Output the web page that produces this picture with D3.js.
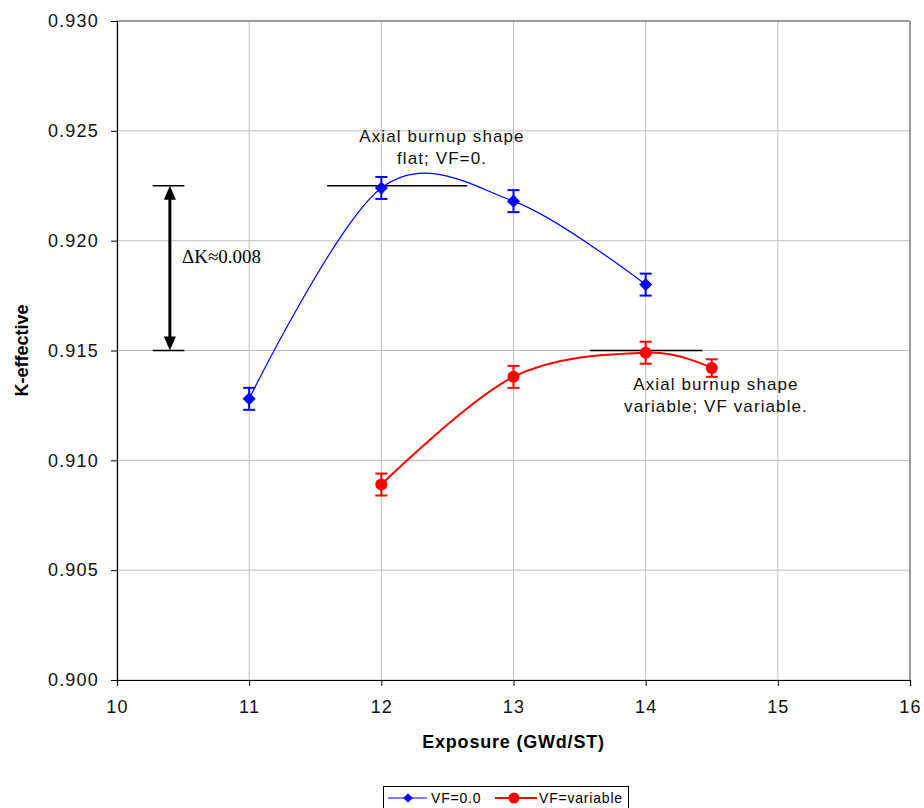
<!DOCTYPE html>
<html>
<head>
<meta charset="utf-8">
<script src="https://cdn.jsdelivr.net/npm/d3@7"></script>
<style>
  html, body { margin: 0; padding: 0; background: #fff; }
  svg { display: block; font-family: "Liberation Sans", Arial, sans-serif; }
</style>
</head>
<body>
<svg id="chart" width="924" height="808"></svg>
<script>
// Exposure (GWd/ST) values for each series
const exposureFlat = [11, 12, 13, 14];
const kFlat = [0.9128, 0.9224, 0.9218, 0.9180];
const errFlat = [0.0005, 0.0005, 0.0005, 0.0005];

const exposureVar = [12, 13, 14, 14.5];
const kVar = [0.9089, 0.9138, 0.9149, 0.9142];
const errVar = [0.0005, 0.0005, 0.0005, 0.0004];

const xTicks = [10, 11, 12, 13, 14, 15, 16];
const yTicks = [0.900, 0.905, 0.910, 0.915, 0.920, 0.925, 0.930];

const seriesNames = ["VF=0.0", "VF=variable"];

// Reference levels and annotation text
const levelFlat = 0.9225;
const levelVar = 0.9150;
const deltaLabel = "ΔK≈0.008";
const noteFlat = ["Axial burnup shape", "flat; VF=0."];
const noteVar = ["Axial burnup shape", "variable; VF variable."];

const svg = d3.select("#chart");
const margin = { left: 117, right: 14, top: 21, bottom: 128 };
const W = 924, H = 808;

const x = d3.scaleLinear().domain([10, 16]).range([margin.left, W - margin.right]);
const y = d3.scaleLinear().domain([0.900, 0.930]).range([H - margin.bottom, margin.top]);

const grid = svg.append("g");
// horizontal gridlines
grid.selectAll("line.h").data(yTicks).join("line")
  .attr("x1", x(10)).attr("x2", x(16))
  .attr("y1", d => y(d)).attr("y2", d => y(d))
  .attr("stroke", "#c0c0c0").attr("stroke-width", 1);
// vertical gridlines
grid.selectAll("line.v").data(xTicks).join("line")
  .attr("x1", d => x(d)).attr("x2", d => x(d))
  .attr("y1", y(0.900)).attr("y2", y(0.930))
  .attr("stroke", "#c0c0c0").attr("stroke-width", 1);
// top and right frame in gray
svg.append("line").attr("x1", x(10)).attr("x2", x(16)).attr("y1", y(0.930)).attr("y2", y(0.930))
  .attr("stroke", "#888").attr("stroke-width", 1.5);
svg.append("line").attr("x1", x(16)).attr("x2", x(16)).attr("y1", y(0.930)).attr("y2", y(0.900))
  .attr("stroke", "#888").attr("stroke-width", 1.5);

// axes
const xAxis = d3.axisBottom(x).tickValues(xTicks).tickFormat(d3.format("d")).tickSizeOuter(0).tickSize(6).tickPadding(14);
const yAxis = d3.axisLeft(y).tickValues(yTicks).tickFormat(d3.format(".3f")).tickSizeOuter(0).tickSize(6).tickPadding(12);

const gx = svg.append("g").attr("transform", `translate(0,${y(0.900)})`).call(xAxis);
const gy = svg.append("g").attr("transform", `translate(${x(10)},0)`).call(yAxis);
[gx, gy].forEach(g => {
  g.selectAll("path.domain").attr("stroke", "#000").attr("stroke-width", 1.2);
  g.selectAll(".tick line").attr("stroke", "#000");
  g.selectAll(".tick text").attr("font-size", 18).attr("fill", "#111")
    .attr("letter-spacing", 1.2)
    .attr("font-family", "'Liberation Sans', Arial, sans-serif");
});

// axis titles
svg.append("text").attr("x", (x(10) + x(16)) / 2).attr("y", 748)
  .attr("text-anchor", "middle").attr("font-size", 18).attr("font-weight", "bold")
  .attr("letter-spacing", 0.8)
  .text("Exposure (GWd/ST)");
svg.append("text").attr("transform", `translate(28,${y(0.915)}) rotate(-90)`)
  .attr("text-anchor", "middle").attr("font-size", 18).attr("font-weight", "bold")
  .text("K-effective");

// reference level lines
svg.append("line").attr("x1", x(11.59)).attr("x2", x(12.65))
  .attr("y1", y(levelFlat)).attr("y2", y(levelFlat)).attr("stroke", "#000").attr("stroke-width", 1.3);
svg.append("line").attr("x1", x(13.58)).attr("x2", x(14.43))
  .attr("y1", y(levelVar)).attr("y2", y(levelVar)).attr("stroke", "#000").attr("stroke-width", 1.3);

// ΔK double arrow
const ax = x(10.40);
svg.append("line").attr("x1", x(10.27)).attr("x2", x(10.51))
  .attr("y1", y(levelFlat)).attr("y2", y(levelFlat)).attr("stroke", "#000").attr("stroke-width", 1.3);
svg.append("line").attr("x1", x(10.27)).attr("x2", x(10.51))
  .attr("y1", y(levelVar)).attr("y2", y(levelVar)).attr("stroke", "#000").attr("stroke-width", 1.3);
svg.append("line").attr("x1", ax).attr("x2", ax)
  .attr("y1", y(levelFlat) + 10).attr("y2", y(levelVar) - 10)
  .attr("stroke", "#000").attr("stroke-width", 3);
svg.append("path")
  .attr("d", `M${ax},${y(levelFlat)} L${ax - 6},${y(levelFlat) + 14} L${ax + 6},${y(levelFlat) + 14} Z`)
  .attr("fill", "#000");
svg.append("path")
  .attr("d", `M${ax},${y(levelVar)} L${ax - 6},${y(levelVar) - 14} L${ax + 6},${y(levelVar) - 14} Z`)
  .attr("fill", "#000");
svg.append("text").attr("x", 182).attr("y", 263)
  .attr("font-family", "'Liberation Serif', 'Times New Roman', serif").attr("font-size", 19)
  .text(deltaLabel);

// smoothed series lines
const line = d3.line().x(d => x(d[0])).y(d => y(d[1])).curve(d3.curveCardinal.tension(0));
const flatPts = exposureFlat.map((e, i) => [e, kFlat[i], errFlat[i]]);
const varPts = exposureVar.map((e, i) => [e, kVar[i], errVar[i]]);

svg.append("path").datum(flatPts).attr("d", line)
  .attr("fill", "none").attr("stroke", "#0000ff").attr("stroke-width", 1.2);
svg.append("path").datum(varPts).attr("d", line)
  .attr("fill", "none").attr("stroke", "#ff0000").attr("stroke-width", 2);

// error bars
function errorBars(pts, color) {
  const g = svg.append("g").attr("stroke", color).attr("stroke-width", 2);
  pts.forEach(p => {
    const cx = x(p[0]);
    g.append("line").attr("x1", cx).attr("x2", cx).attr("y1", y(p[1] - p[2])).attr("y2", y(p[1] + p[2]));
    g.append("line").attr("x1", cx - 6).attr("x2", cx + 6).attr("y1", y(p[1] - p[2])).attr("y2", y(p[1] - p[2]));
    g.append("line").attr("x1", cx - 6).attr("x2", cx + 6).attr("y1", y(p[1] + p[2])).attr("y2", y(p[1] + p[2]));
  });
}
errorBars(flatPts, "#0000ff");
errorBars(varPts, "#ff0000");

// markers: diamonds are squares turned 45°
const diamond = d3.symbol().type(d3.symbolSquare).size(85);
svg.selectAll("path.mflat").data(flatPts).join("path")
  .attr("transform", d => `translate(${x(d[0])},${y(d[1])}) rotate(45)`)
  .attr("d", diamond).attr("fill", "#0000ff");
svg.selectAll("circle.mvar").data(varPts).join("circle")
  .attr("cx", d => x(d[0])).attr("cy", d => y(d[1])).attr("r", 6).attr("fill", "#ff0000");

// annotation notes
function note(lines, cx, y0) {
  const t = svg.append("text").attr("text-anchor", "middle").attr("font-size", 17)
    .attr("letter-spacing", 1.1).attr("fill", "#111");
  lines.forEach((s, i) => t.append("tspan").attr("x", cx).attr("y", y0 + i * 22).text(s));
}
note(noteFlat, 442, 142);
note(noteVar, 716, 390);

// legend
const lg = svg.append("g");
lg.append("rect").attr("x", 383.5).attr("y", 786.5).attr("width", 245).attr("height", 25)
  .attr("fill", "#fff").attr("stroke", "#000").attr("stroke-width", 1);
lg.append("line").attr("x1", 388).attr("x2", 427).attr("y1", 798).attr("y2", 798)
  .attr("stroke", "#0000ff").attr("stroke-width", 1.2);
lg.append("path").attr("transform", "translate(408,798) rotate(45)")
  .attr("d", d3.symbol().type(d3.symbolSquare).size(45)).attr("fill", "#0000ff");
lg.append("text").attr("x", 431).attr("y", 803).attr("font-size", 14).attr("letter-spacing", 0.8).text(seriesNames[0]);
lg.append("line").attr("x1", 495).attr("x2", 537).attr("y1", 798).attr("y2", 798)
  .attr("stroke", "#ff0000").attr("stroke-width", 2);
lg.append("circle").attr("cx", 514).attr("cy", 798).attr("r", 5.5).attr("fill", "#ff0000");
lg.append("text").attr("x", 539).attr("y", 803).attr("font-size", 14).attr("letter-spacing", 0.8).text(seriesNames[1]);
</script>
</body>
</html>
